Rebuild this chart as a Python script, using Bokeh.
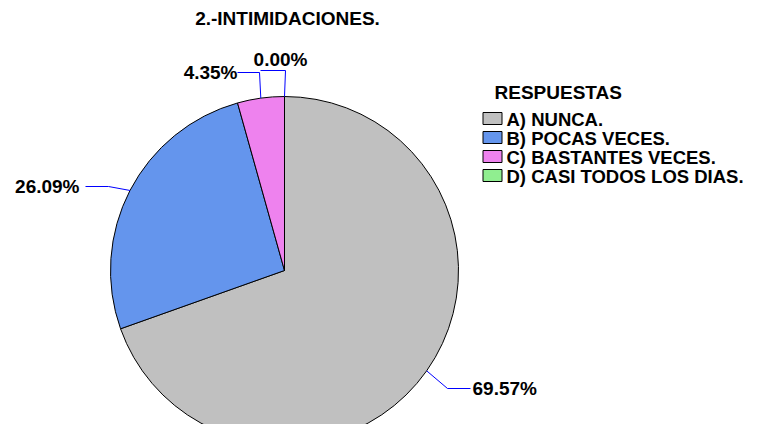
import numpy as np
from bokeh.plotting import figure
from bokeh.models import Range1d
from bokeh.core.properties import value
from bokeh.embed import file_html
from bokeh.resources import INLINE

# ---- data ----
categories = ["A) NUNCA.", "B) POCAS VECES.", "C) BASTANTES VECES.", "D) CASI TODOS LOS DIAS."]
percents = [69.57, 26.09, 4.35, 0.00]
labels = ["69.57%", "26.09%", "4.35%", "0.00%"]
colors = ["#C0C0C0", "#6495ED", "#EE82EE", "#90EE90"]
title_text = "2.-INTIMIDACIONES."
legend_title = "RESPUESTAS"

W, H = 751, 424
FONT = value("Liberation Sans")

def Y(sy):  # screen y -> data y
    return 440 - sy

p = figure(width=W, height=H, x_range=Range1d(0, W), y_range=Range1d(440 - H, 440),
           output_backend="svg", toolbar_location=None, min_border=0)
p.axis.visible = False
p.grid.visible = False
p.outline_line_color = None
p.background_fill_color = "white"
p.border_fill_color = "white"

cx, cy, r = 284, Y(270), 174
fr = np.array(percents) / sum(percents)
cum = np.concatenate([[0], np.cumsum(fr)])
start = np.deg2rad(90 - cum[:-1] * 360)
end = np.deg2rad(90 - cum[1:] * 360)
mid = (start + end) / 2

nz = fr > 0
p.wedge(x=cx, y=cy, radius=r, start_angle=start[nz], end_angle=end[nz], direction="clock",
        fill_color=[c for c, k in zip(colors, nz) if k], line_color="black", line_width=1)

# leader lines and labels (layout)
elbow = [(447, 388), (108, 186), (259, 72), (285, 70)]
lend = [(470, 388), (85, 186), (237, 72), (260, 70)]
lpos = [(472, 388, "left", "middle"), (79, 186, "right", "middle"),
        (237, 72, "right", "middle"), (280, 69, "center", "bottom")]
for i in range(4):
    ax = cx + r * np.cos(mid[i])
    ay = cy + r * np.sin(mid[i])
    p.line([ax, elbow[i][0], lend[i][0]], [ay, Y(elbow[i][1]), Y(lend[i][1])],
           line_color="#0000FF", line_width=1)
    x, y, al, bl = lpos[i]
    p.text(x=[x], y=[Y(y)], text=[labels[i]], text_font=FONT, text_font_style="bold",
           text_font_size="19px", text_align=al, text_baseline=bl, text_color="black")

# title
p.text(x=[287], y=[Y(18)], text=[title_text], text_font=FONT, text_font_style="bold",
       text_font_size="19px", text_align="center", text_baseline="middle", text_color="black")

# legend
p.text(x=[494], y=[Y(92)], text=[legend_title], text_font=FONT, text_font_style="bold",
       text_font_size="19px", text_align="left", text_baseline="middle", text_color="black")
rows = [118, 137, 156, 175]
for i in range(4):
    p.rect(x=[492], y=[Y(rows[i])], width=19, height=12, fill_color=colors[i],
           line_color="black", line_width=1)
    p.text(x=[506], y=[Y(rows[i]) - 1], text=[categories[i]], text_font=FONT, text_font_style="bold",
           text_font_size="18.5px", text_align="left", text_baseline="middle", text_color="black")

open("out.html", "w").write(file_html(p, INLINE))
